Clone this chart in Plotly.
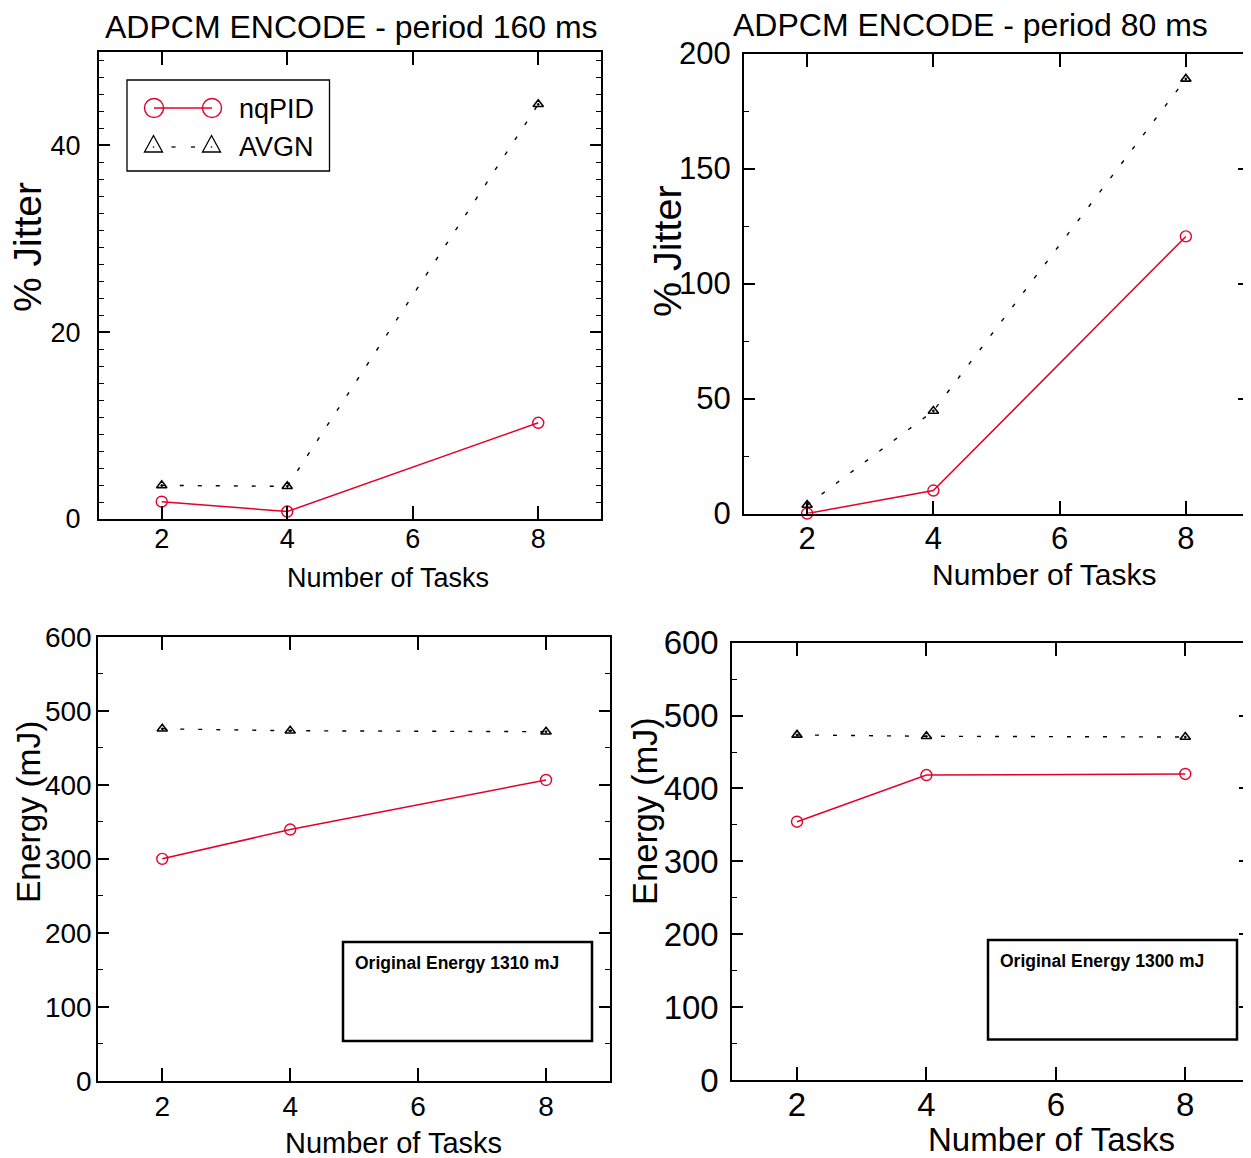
import plotly.graph_objects as go

W, H = 1251, 1158
OFF = 8  # page body margin of the html page
WF, HF = W - OFF, H - OFF

# ---------------- data ----------------
tasks = [2, 4, 8]
x_ticks = [2, 4, 6, 8]
jitter160_nqpid = [1.85, 0.8, 10.3]
jitter160_avgn = [3.6, 3.5, 44.4]
jitter80_nqpid = [0.0, 10.0, 120.5]
jitter80_avgn = [3.7, 44.6, 189.0]
energy160_nqpid = [300.0, 339.6, 406.5]
energy160_avgn = [475.6, 473.0, 471.7]
energy80_nqpid = [354.4, 418.4, 419.9]
energy80_avgn = [473.5, 471.6, 470.6]

titles = ["ADPCM ENCODE - period 160 ms", "ADPCM ENCODE - period 80 ms"]
series_names = ["nqPID", "AVGN"]
box_texts = ["Original Energy 1310 mJ", "Original Energy 1300 mJ"]

RED = "#E4002B"
FONT = "Liberation Sans, Arial, sans-serif"


def fx(px):
    return (px - OFF) / WF


def fy(py):
    return 1 - (py - OFF) / HF


# panel layout (pixel boxes) and axis styling
panels = [
    dict(box=(99, 52, 601, 519), yr=[0, 50], dt=20, mdt=20 / 11, tf=27, ys=11, xs=-5,
         nq=jitter160_nqpid, av=jitter160_avgn),
    dict(box=(744, 53.6, 1249, 513.5), yr=[0, 200], dt=50, mdt=25, tf=31, ys=5, xs=-4,
         nq=jitter80_nqpid, av=jitter80_avgn),
    dict(box=(98.3, 636.7, 610, 1081), yr=[0, 600], dt=100, mdt=50, tf=28, ys=-1, xs=-1,
         nq=energy160_nqpid, av=energy160_avgn),
    dict(box=(732.3, 642.7, 1250, 1080), yr=[0, 600], dt=100, mdt=50, tf=33, ys=5, xs=-6,
         nq=energy80_nqpid, av=energy80_avgn),
]

fig = go.Figure()
layout = dict(
    width=WF, height=HF, margin=dict(l=0, r=0, t=0, b=0, autoexpand=False),
    paper_bgcolor="white", plot_bgcolor="white", showlegend=False,
    font=dict(family=FONT, color="black"),
)

for i, p in enumerate(panels, start=1):
    x0, y0, x1, y1 = p["box"]
    xa = "xaxis" if i == 1 else f"xaxis{i}"
    ya = "yaxis" if i == 1 else f"yaxis{i}"
    xr = "x" if i == 1 else f"x{i}"
    yr = "y" if i == 1 else f"y{i}"
    layout[xa] = dict(
        domain=[fx(x0), min(fx(x1), 1)], range=[1, 9], anchor=yr, automargin=False,
        tickmode="array", tickvals=x_ticks, ticktext=[str(v) for v in x_ticks],
        ticks="inside", ticklen=13, tickwidth=1.5, tickcolor="black",
        showline=True, linecolor="black", linewidth=2, mirror="allticks",
        showgrid=False, zeroline=False, ticklabelstandoff=p["xs"],
        tickfont=dict(size=p["tf"], family=FONT, color="black"),
    )
    layout[ya] = dict(
        domain=[fy(y1), fy(y0)], range=p["yr"], anchor=xr, automargin=False,
        dtick=p["dt"], tick0=0,
        ticks="inside", ticklen=11, tickwidth=1.5, tickcolor="black",
        minor=dict(dtick=p["mdt"], tick0=0, ticks="inside", ticklen=5,
                   tickwidth=1.3, tickcolor="black", showgrid=False),
        showline=True, linecolor="black", linewidth=2, mirror="allticks",
        showgrid=False, zeroline=False, ticklabelstandoff=p["ys"],
        tickfont=dict(size=p["tf"], family=FONT, color="black"),
    )
    fig.add_trace(go.Scatter(
        x=tasks, y=p["nq"], xaxis=xr, yaxis=yr, name=series_names[0],
        mode="lines+markers", cliponaxis=False,
        line=dict(color=RED, width=1.5),
        marker=dict(symbol="circle-open", size=11, color=RED, line=dict(width=1.4, color=RED)),
    ))
    fig.add_trace(go.Scatter(
        x=tasks, y=p["av"], xaxis=xr, yaxis=yr, name=series_names[1],
        mode="lines+markers", cliponaxis=False,
        line=dict(color="black", width=1.4, dash="4px,14px"),
        marker=dict(symbol="triangle-up-open-dot", size=9, color="black",
                    line=dict(width=1.6, color="black")),
    ))

fig.update_layout(**layout)

ann = []
shapes = []


def text(px, py, s, size, angle=0, xanchor="center", yanchor="middle", bold=False):
    ann.append(dict(
        x=fx(px), y=fy(py), xref="paper", yref="paper", text=f"<b>{s}</b>" if bold else s,
        showarrow=False, textangle=angle, xanchor=xanchor, yanchor=yanchor,
        font=dict(size=size, family=FONT, color="black"),
    ))


# titles
text(351.5, 27, titles[0], 32)
text(970, 25, titles[1], 32)
# y titles
text(28, 247, "% Jitter", 39, angle=-90)
text(667, 251, "% Jitter", 39.5, angle=-90)
text(28, 812, "Energy (mJ)", 33.5, angle=-90)
text(645, 811, "Energy (mJ)", 34.5, angle=-90)
# x titles
text(388.5, 578, "Number of Tasks", 27)
text(1044.5, 574, "Number of Tasks", 30)
text(393.5, 1143, "Number of Tasks", 29)
text(1051.5, 1139, "Number of Tasks", 33)

# energy info boxes
for (bx0, by0, bx1, by1), (tx, ty), s in [
    ((343, 942, 592, 1041), (353, 963), box_texts[0]),
    ((988, 940, 1237, 1039.5), (997.5, 961), box_texts[1]),
]:
    shapes.append(dict(type="rect", xref="paper", yref="paper",
                       x0=fx(bx0), x1=fx(bx1), y0=fy(by1), y1=fy(by0),
                       line=dict(color="black", width=2.5), fillcolor="rgba(0,0,0,0)"))
    text(tx, ty, s, 17.5, xanchor="left", bold=True)

# legend (drawn manually to mimic the original legend sample style)
shapes.append(dict(type="rect", xref="paper", yref="paper",
                   x0=fx(127), x1=fx(329.5), y0=fy(171), y1=fy(80),
                   line=dict(color="black", width=1.3), fillcolor="white"))
shapes.append(dict(type="line", xref="paper", yref="paper",
                   x0=fx(154), x1=fx(212), y0=fy(108), y1=fy(108),
                   line=dict(color=RED, width=1.5)))
for cx in (154, 212):
    shapes.append(dict(type="circle", xref="paper", yref="paper",
                       x0=fx(cx - 9.5), x1=fx(cx + 9.5), y0=fy(108 + 9.5), y1=fy(108 - 9.5),
                       line=dict(color=RED, width=1.4)))
for cx in (153.5, 211.5):
    path = (f"M {fx(cx - 9)} {fy(152)} L {fx(cx + 9)} {fy(152)} "
            f"L {fx(cx)} {fy(135.5)} Z")
    shapes.append(dict(type="path", xref="paper", yref="paper", path=path,
                       line=dict(color="black", width=1.3)))
    shapes.append(dict(type="line", xref="paper", yref="paper",
                       x0=fx(cx - 0.7), x1=fx(cx + 0.7), y0=fy(147), y1=fy(147),
                       line=dict(color="black", width=1.3)))
for dx0, dx1 in ((171.5, 175.5), (191, 195)):
    shapes.append(dict(type="line", xref="paper", yref="paper",
                       x0=fx(dx0), x1=fx(dx1), y0=fy(147), y1=fy(147),
                       line=dict(color="black", width=1.3)))
text(237, 109, series_names[0], 27, xanchor="left")
text(237, 147, series_names[1], 27, xanchor="left")

fig.update_layout(annotations=ann, shapes=shapes)
fig.write_html("out.html")
